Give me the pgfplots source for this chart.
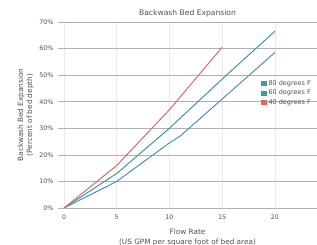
\documentclass[border=0pt]{standalone}
\usepackage{fontspec}
\setmainfont{DejaVu Sans}
\usepackage{pgfplots}
\pgfplotsset{compat=1.18}
\definecolor{c80}{HTML}{4A8FC4}
\definecolor{c60}{HTML}{3A9A96}
\definecolor{c40}{HTML}{E0666A}
\definecolor{txt}{HTML}{505050}
\begin{document}
\begin{tikzpicture}
\begin{axis}[
  at={(0,0)}, anchor=south west,
  scale only axis, width=259pt, height=186pt,
  xmin=-0.57, xmax=24, ymin=0, ymax=70,
  axis line style={draw=none},
  major tick length=0pt,
  xtick={0,5,10,15,20}, ytick={0,10,...,70},
  yticklabel={\pgfmathprintnumber{\tick}\%},
  /pgf/number format/assume math mode=true,
  ymajorgrids, xmajorgrids,
  y grid style={draw=black!30, line width=0.6pt},
  x grid style={draw=black!8, line width=0.5pt},
  tick label style={font=\fontsize{6.3}{7}\selectfont, text=txt},
  yticklabel style={xshift=-1pt},
  xticklabel style={yshift=-3pt},
  title={Backwash Bed Expansion},
  title style={font=\fontsize{7.6}{8}\selectfont, text=txt, yshift=-5pt},
  xlabel={Flow Rate\\(US GPM per square foot of bed area)},
  xlabel style={font=\fontsize{7.3}{10}\selectfont, text=txt, align=center, yshift=-3pt},
  ylabel={Backwash Bed Expansion\\(Percent of bed depth)},
  ylabel style={font=\fontsize{7.3}{9}\selectfont, text=txt, align=center, yshift=-1pt},
  legend style={at={(axis cs:18.7,48.8)}, anchor=north west, draw=none, fill=none,
    font=\fontsize{6.5}{7}\selectfont, text=txt, row sep=-1pt, inner sep=0pt},
  legend cell align=left,
  legend image code/.code={\fill[#1] (0pt,-2.1pt) rectangle (4.2pt,2.1pt);},
]
\addplot[c80, line width=1pt] coordinates {(0,0) (5,10) (10,24.5) (11,27) (15,41) (20,58.5)};
\addlegendentry{80 degrees F}
\addplot[c60, line width=1pt] coordinates {(0,0) (5,13) (10,30) (15,48.5) (20,66.5)};
\addlegendentry{60 degrees F}
\addplot[c40, line width=1pt] coordinates {(0,0) (5,16) (10,37) (15,60.5)};
\addlegendentry{40 degrees F}
\end{axis}
\pgfresetboundingbox
\path (-58pt,-37pt) rectangle (259pt,208pt);
\end{tikzpicture}
\end{document}
